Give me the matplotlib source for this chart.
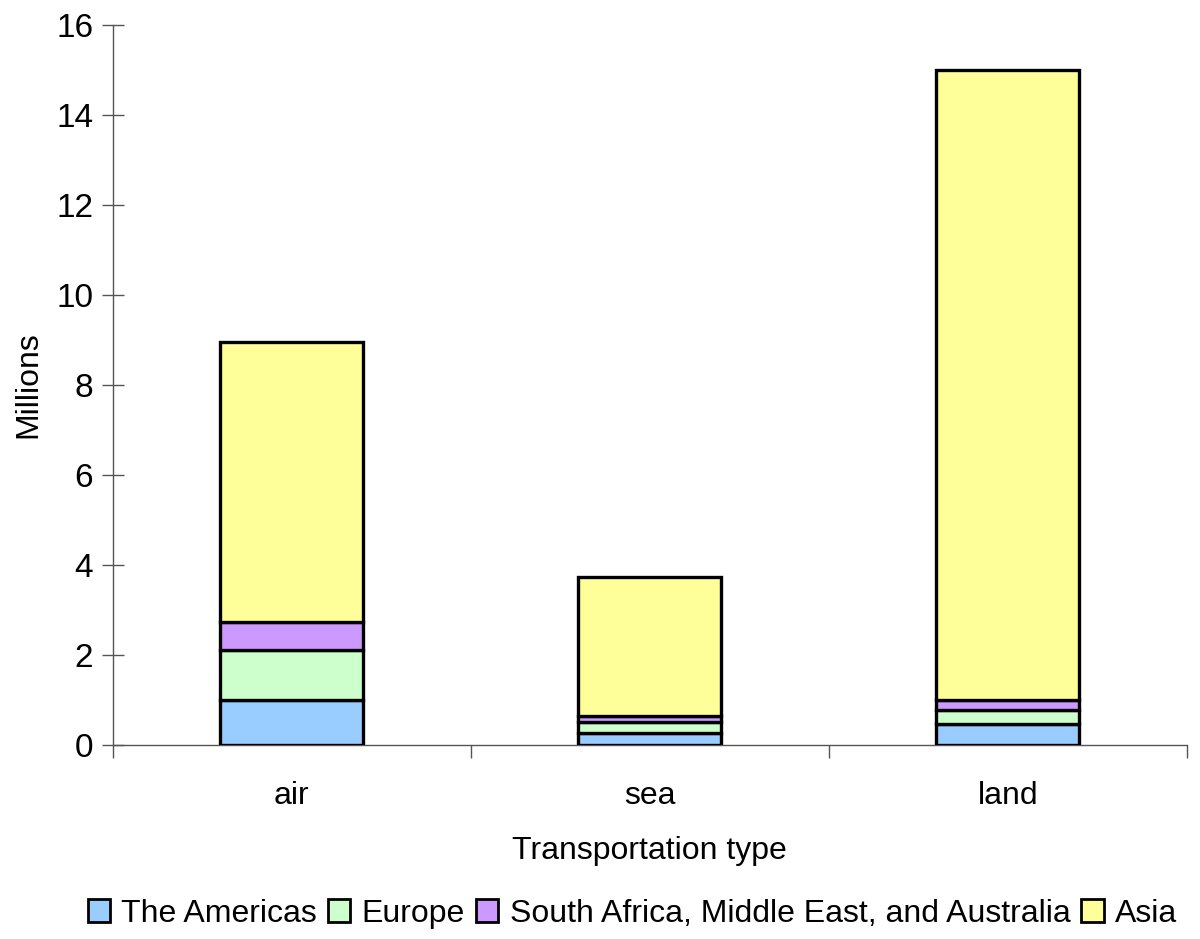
import matplotlib
matplotlib.use("Agg")
import matplotlib.pyplot as plt
import numpy as np

categories = ["air", "sea", "land"]
series_names = ["The Americas", "Europe", "South Africa, Middle East, and Australia", "Asia"]
americas = [1.0, 0.27, 0.47]
europe = [1.1, 0.24, 0.31]
sa_me_au = [0.63, 0.13, 0.22]
asia = [6.23, 3.09, 14.0]
colors = ["#99ccff", "#ccffcc", "#cc99ff", "#ffff99"]
yticks = [0, 2, 4, 6, 8, 10, 12, 14, 16]

plt.rcParams['font.family'] = ['Liberation Sans', 'DejaVu Sans']

fig = plt.figure(figsize=(12, 9.39), dpi=100)
ax = fig.add_axes([0.094, 0.2066, 0.895, 0.7668])

x = np.arange(len(categories))
bottom = np.zeros(len(categories))
handles = []
for name, vals, c in zip(series_names, [americas, europe, sa_me_au, asia], colors):
    b = ax.bar(x, vals, width=0.40, bottom=bottom, color=c, edgecolor="black",
               linewidth=2.4, label=name, zorder=3)
    handles.append(b)
    bottom += np.array(vals)

ax.set_xlim(-0.5, 2.5)
ax.set_ylim(0, 16)
ax.set_yticks(yticks)
ax.set_yticklabels([str(t) for t in yticks], fontsize=24)
ax.set_xticks([-0.5, 0.5, 1.5, 2.5])
ax.set_xticklabels([])
ax.set_xticks(x, minor=True)
ax.set_xticklabels(categories, minor=True, fontsize=23)
ax.tick_params(axis="x", which="minor", length=0, pad=26)
ax.tick_params(axis="x", which="major", direction="out", length=9, color="#555555", width=1)
ax.tick_params(axis="y", direction="inout", length=16, color="#555555", width=1, pad=6)

for s in ["top", "right"]:
    ax.spines[s].set_visible(False)
for s in ["left", "bottom"]:
    ax.spines[s].set_color("#555555")
    ax.spines[s].set_linewidth(1)

ax.set_ylabel("Millions", fontsize=23, labelpad=9)
ax.set_xlabel("Transportation type", fontsize=23, labelpad=18)

leg = fig.legend(handles=handles, labels=series_names, loc="center", bbox_to_anchor=(0.527, 0.027),
                 ncol=4, frameon=False, fontsize=23, handlelength=0.7, handleheight=0.7,
                 handletextpad=0.35, columnspacing=0.35, borderaxespad=0)
for h in leg.legend_handles:
    h.set_linewidth(2)

fig.savefig("out.png", dpi=100)
